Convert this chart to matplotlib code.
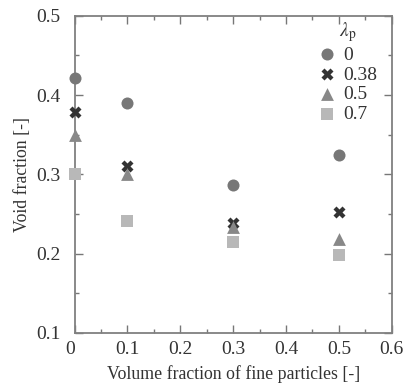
import matplotlib.pyplot as plt
from matplotlib.ticker import MultipleLocator

plt.rcParams['font.family'] = ['Liberation Serif', 'DejaVu Serif']
plt.rcParams['mathtext.fontset'] = 'stix'

x = [0.0, 0.1, 0.3, 0.5]
lam_labels = ['0', '0.38', '0.5', '0.7']
void_0 = [0.421, 0.390, 0.286, 0.324]
void_038 = [0.379, 0.310, 0.238, 0.252]
void_05 = [0.350, 0.300, 0.233, 0.218]
void_07 = [0.300, 0.241, 0.214, 0.198]

series = [void_0, void_038, void_05, void_07]
markers = ['o', 'X', '^', 's']
colors = ['#777777', '#333333', '#888888', '#b8b8b8']
sizes = [75, 75, 85, 68]

fig = plt.figure(figsize=(4.03, 3.87), dpi=100)
ax = fig.add_axes([0.185, 0.140, 0.787, 0.819])

for vals, m, c, s, lab in zip(series, markers, colors, sizes, lam_labels):
    ax.scatter(x, vals, marker=m, color=c, s=s, linewidths=0, label=lab,
               clip_on=False, zorder=3)

ax.set_xlim(0, 0.6)
ax.set_ylim(0.1, 0.5)
ax.xaxis.set_major_locator(MultipleLocator(0.1))
ax.xaxis.set_minor_locator(MultipleLocator(0.05))
ax.yaxis.set_major_locator(MultipleLocator(0.1))
ax.yaxis.set_minor_locator(MultipleLocator(0.05))
ax.tick_params(which='both', direction='in', top=True, right=True, colors='#777777',
               labelcolor='#333333', labelsize=14, width=1.0)
ax.tick_params(which='major', length=6)
ax.tick_params(which='minor', length=3)
ax.tick_params(axis='x', pad=6)
ax.tick_params(axis='y', pad=10)
ax.set_xticks([0, 0.1, 0.2, 0.3, 0.4, 0.5, 0.6])
ax.set_xticklabels(['0', '0.1', '0.2', '0.3', '0.4', '0.5', '0.6'])
ax.get_xticklabels()[0].set_horizontalalignment('right')
for sp in ax.spines.values():
    sp.set_color('#808080')
    sp.set_linewidth(1.3)

ax.set_xlabel('Volume fraction of fine particles [-]', fontsize=12.8, color='#333333',
              labelpad=5)
ax.set_ylabel('Void fraction [-]', fontsize=12.8, color='#333333', labelpad=4)

leg = ax.legend(title=r'$\lambda_\mathrm{p}$', loc='upper right', frameon=False,
                fontsize=14, handletextpad=0.3, handlelength=1.0, labelspacing=0.12,
                borderaxespad=0.0, bbox_to_anchor=(0.966, 1.0), borderpad=0.2)
leg.get_title().set_fontsize(14)
leg.get_title().set_color('#333333')
for t in leg.get_texts():
    t.set_color('#333333')

fig.savefig('out.png', dpi=100)
